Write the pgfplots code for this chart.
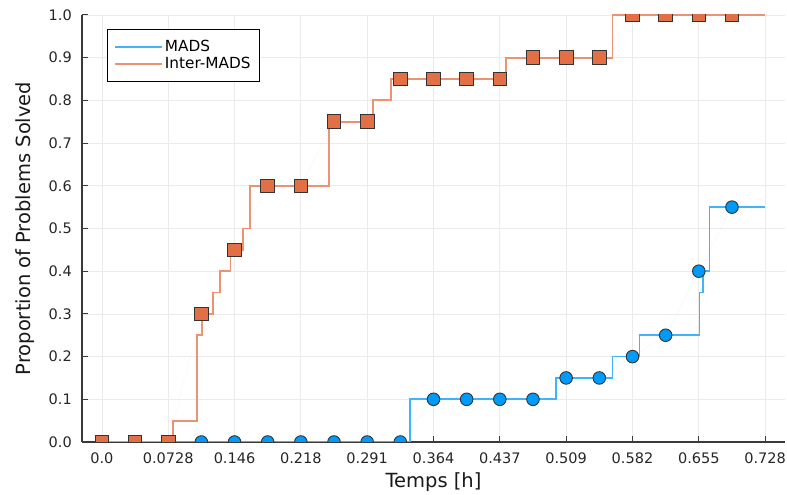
\documentclass[border=0pt]{standalone}
\usepackage{pgfplots}
\pgfplotsset{compat=1.18}
\usepackage{fontspec}
\setmainfont{DejaVu Sans}
\definecolor{jblue}{HTML}{009AFA}
\definecolor{jorange}{HTML}{E36F47}
\definecolor{axcol}{HTML}{3A3A3A}
\begin{document}
\begin{tikzpicture}
\begin{axis}[
  at={(0pt,0pt)}, anchor=south west,
  width=703pt, height=427pt, scale only axis,
  xmin=-0.0218, xmax=0.7498, ymin=0, ymax=1,
  axis lines*=left,
  axis line style={axcol, line width=1.2pt},
  tick style={axcol, line width=1pt},
  tick align=inside, major tick length=6pt,
  clip marker paths=true,
  xtick={0,0.0728,0.1456,0.2184,0.2912,0.364,0.4368,0.5096,0.5824,0.6552,0.728},
  xticklabels={0.0,0.0728,0.146,0.218,0.291,0.364,0.437,0.509,0.582,0.655,0.728},
  ytick={0,0.1,0.2,0.3,0.4,0.5,0.6,0.7,0.8,0.9,1.0},
  yticklabels={0.0,0.1,0.2,0.3,0.4,0.5,0.6,0.7,0.8,0.9,1.0},
  /pgf/number format/assume math mode=true,
  ticklabel style={font=\fontsize{14.5}{17}\selectfont, text=black!85},
  xticklabel style={inner sep=0pt, anchor=north, yshift=-10.5pt},
  yticklabel style={inner sep=0pt, anchor=east, xshift=-10pt},
  grid=major, grid style={black!8, line width=0.7pt},
  xlabel={Temps [h]}, ylabel={Proportion of Problems Solved},
  label style={font=\fontsize{19.5}{23}\selectfont, text=black!90},
  x label style={at={(axis description cs:0.5,-0.1054)}, anchor=base},
  y label style={at={(axis description cs:-0.0811,0.5)}, anchor=center, rotate=0},
  legend style={at={(axis description cs:0.0356,0.967)}, anchor=north west,
    draw=black, line width=0.9pt, fill=white, inner xsep=7pt, inner ysep=9pt,
    font=\fontsize{15.3}{17}\selectfont, row sep=0pt,
    nodes={inner sep=2pt, anchor=west}},
  legend cell align=left,
  legend image code/.code={\draw[#1, line width=1.5pt] (0pt,0pt) -- (47pt,0pt);},
]
% MADS step line
\addplot[const plot, jblue!75, line width=1.8pt, no marks] coordinates {
 (0,0) (0.338,0.1) (0.4985,0.15) (0.5604,0.2) (0.590,0.25) (0.656,0.35) (0.6596,0.4) (0.6669,0.55) (0.728,0.55)};
\addlegendentry{MADS}
% MADS markers
\addplot[forget plot, jblue, opacity=1, line width=0.4pt, draw opacity=0.08,
  mark=*, mark size=6.3pt, mark options={fill=jblue, draw=black!80, line width=0.9pt, draw opacity=1}] coordinates {
 (0,0) (0.0364,0) (0.0728,0) (0.1092,0) (0.1456,0) (0.182,0) (0.2184,0) (0.2548,0) (0.2912,0) (0.3276,0)
 (0.364,0.1) (0.4004,0.1) (0.4368,0.1) (0.4732,0.1) (0.5096,0.15) (0.546,0.15) (0.5824,0.2) (0.6188,0.25) (0.6552,0.4) (0.6916,0.55)};
% Inter-MADS step line
\addplot[const plot, jorange!75, line width=1.8pt, no marks] coordinates {
 (0,0) (0.0783,0.05) (0.104,0.25) (0.110,0.30) (0.122,0.35) (0.1296,0.40) (0.1413,0.45) (0.155,0.5) (0.163,0.6)
 (0.2497,0.75) (0.298,0.8) (0.317,0.85) (0.4436,0.9) (0.5604,1.0) (0.728,1.0)};
\addlegendentry{Inter-MADS}
% Inter-MADS markers
\addplot[forget plot, jorange, line width=0.4pt, draw opacity=0.08,
  mark=square*, mark size=6.8pt, mark options={fill=jorange, draw=black!80, line width=0.9pt, draw opacity=1}] coordinates {
 (0,0) (0.0364,0) (0.0728,0) (0.1092,0.3) (0.1456,0.45) (0.182,0.6) (0.2184,0.6) (0.2548,0.75) (0.2912,0.75) (0.3276,0.85)
 (0.364,0.85) (0.4004,0.85) (0.4368,0.85) (0.4732,0.9) (0.5096,0.9) (0.546,0.9) (0.5824,1.0) (0.6188,1.0) (0.6552,1.0) (0.6916,1.0)};
\end{axis}
\pgfresetboundingbox
\path (-82pt,-53pt) rectangle (705pt,442pt);
\end{tikzpicture}
\end{document}
